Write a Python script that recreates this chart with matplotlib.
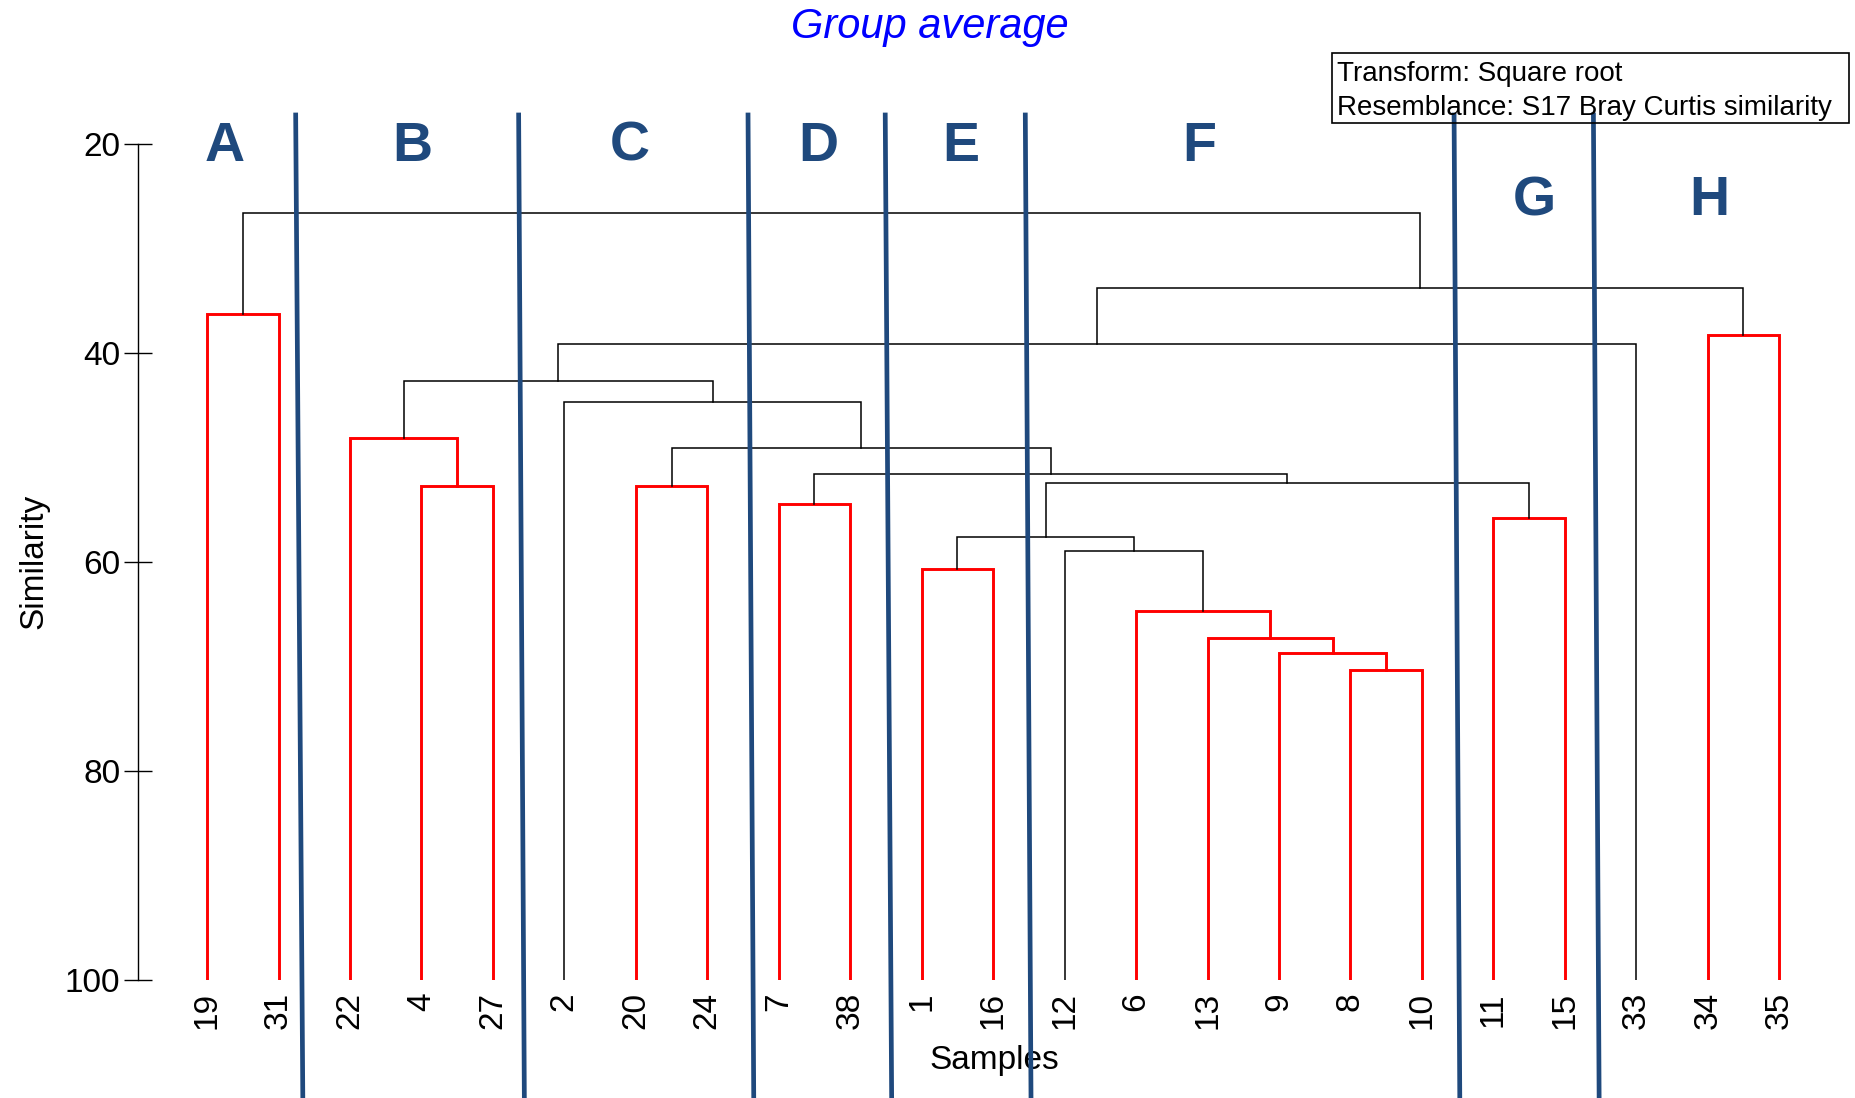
import matplotlib
matplotlib.use("Agg")
from matplotlib import pyplot as plt
from matplotlib.patches import Rectangle

plt.rcParams['font.family'] = ['Liberation Sans', 'DejaVu Sans']

# leaf order along the x axis
samples = ["19", "31", "22", "4", "27", "2", "20", "24", "7", "38", "1", "16",
           "12", "6", "13", "9", "8", "10", "11", "15", "33", "34", "35"]

# merges: (name, left child, right child, similarity, red)
merges = [
    ("n0", "19", "31", 36.3, True),
    ("n1", "4", "27", 52.8, True),
    ("n2", "22", "n1", 48.2, True),
    ("n3", "20", "24", 52.8, True),
    ("n4", "7", "38", 54.5, True),
    ("n5", "1", "16", 60.7, True),
    ("n6", "8", "10", 70.4, True),
    ("n7", "9", "n6", 68.7, True),
    ("n8", "13", "n7", 67.3, True),
    ("n9", "6", "n8", 64.75, True),
    ("n10", "12", "n9", 58.95, False),
    ("n11", "n5", "n10", 57.6, False),
    ("n12", "11", "15", 55.85, True),
    ("n13", "n11", "n12", 52.5, False),
    ("n14", "n4", "n13", 51.65, False),
    ("n15", "n3", "n14", 49.15, False),
    ("n16", "2", "n15", 44.7, False),
    ("n17", "n2", "n16", 42.7, False),
    ("n18", "n17", "33", 39.15, False),
    ("n19", "34", "35", 38.3, True),
    ("n20", "n18", "n19", 33.8, False),
    ("n21", "n0", "n20", 26.65, False),
]

# group letters and their positions (leaf units, similarity)
groups = ["A", "B", "C", "D", "E", "F", "G", "H"]
group_x = [0.25, 2.87, 5.92, 8.55, 10.54, 13.88, 18.57, 21.02]
group_y = [20.3, 20.3, 20.3, 20.3, 20.3, 20.3, 25.5, 25.5]

# slanted separators: x at top and at bottom (leaf units)
sep_top = [1.24, 4.36, 7.57, 9.49, 11.45, 17.45, 19.40]
sep_bottom = [1.34, 4.44, 7.65, 9.58, 11.53, 17.53, 19.48]

info = ["Transform: Square root", "Resemblance: S17 Bray Curtis similarity"]

fig = plt.figure(figsize=(18.56, 10.98), dpi=100)
ax = fig.add_axes([0.0746, 0.1077, 0.8952, 0.7614])

xpos = {s: i for i, s in enumerate(samples)}
height = {s: 100 for s in samples}
for name, a, b, h, red in merges:
    color = "#ff0000" if red else "black"
    lw = 2.1 if red else 1.1
    ax.plot([xpos[a], xpos[a], xpos[b], xpos[b]],
            [height[a], h, h, height[b]], color=color, lw=lw,
            solid_joinstyle="miter", zorder=2)
    xpos[name] = (xpos[a] + xpos[b]) / 2
    height[name] = h

ax.set_xlim(-0.96, 22.29)
ax.set_ylim(100, 20)
ax.set_yticks([20, 40, 60, 80, 100])
ax.set_xticks(range(len(samples)))
ax.set_xticklabels(samples, rotation=90)
ax.tick_params(axis="x", length=0, pad=9, labelsize=24)
ax.tick_params(axis="y", direction="inout", length=20, width=1.0, pad=3,
               labelsize=24)
for side in ["top", "right", "bottom"]:
    ax.spines[side].set_visible(False)
ax.spines["left"].set_linewidth(1.0)
ax.set_xlabel("Samples", fontsize=24, labelpad=11)
ax.xaxis.label.set_x(0.515)
ax.set_ylabel("Similarity", fontsize=24, labelpad=11)

for xt, xb in zip(sep_top, sep_bottom):
    ax.plot([xt, xb], [17.25, 111.5], color="#1F497D", lw=3.4,
            clip_on=False, zorder=3)

for g, gx, gy in zip(groups, group_x, group_y):
    ax.text(gx, gy, g, color="#1F497D", fontsize=40, fontweight="bold",
            ha="center", va="center")

fig.text(0.501, 0.975, "Group average", color="blue", fontsize=30,
         style="italic", ha="center", va="center")

fig.patches.append(Rectangle((1332 / 1856, 1 - 123 / 1098), 517 / 1856,
                             70 / 1098, transform=fig.transFigure,
                             fill=False, edgecolor="black", lw=1.2))
fig.text(1337.5 / 1856, 1 - 74 / 1098, info[0], fontsize=20,
         ha="left", va="center")
fig.text(1337.5 / 1856, 1 - 108 / 1098, info[1], fontsize=20,
         ha="left", va="center")

fig.savefig("out.png", dpi=100)
